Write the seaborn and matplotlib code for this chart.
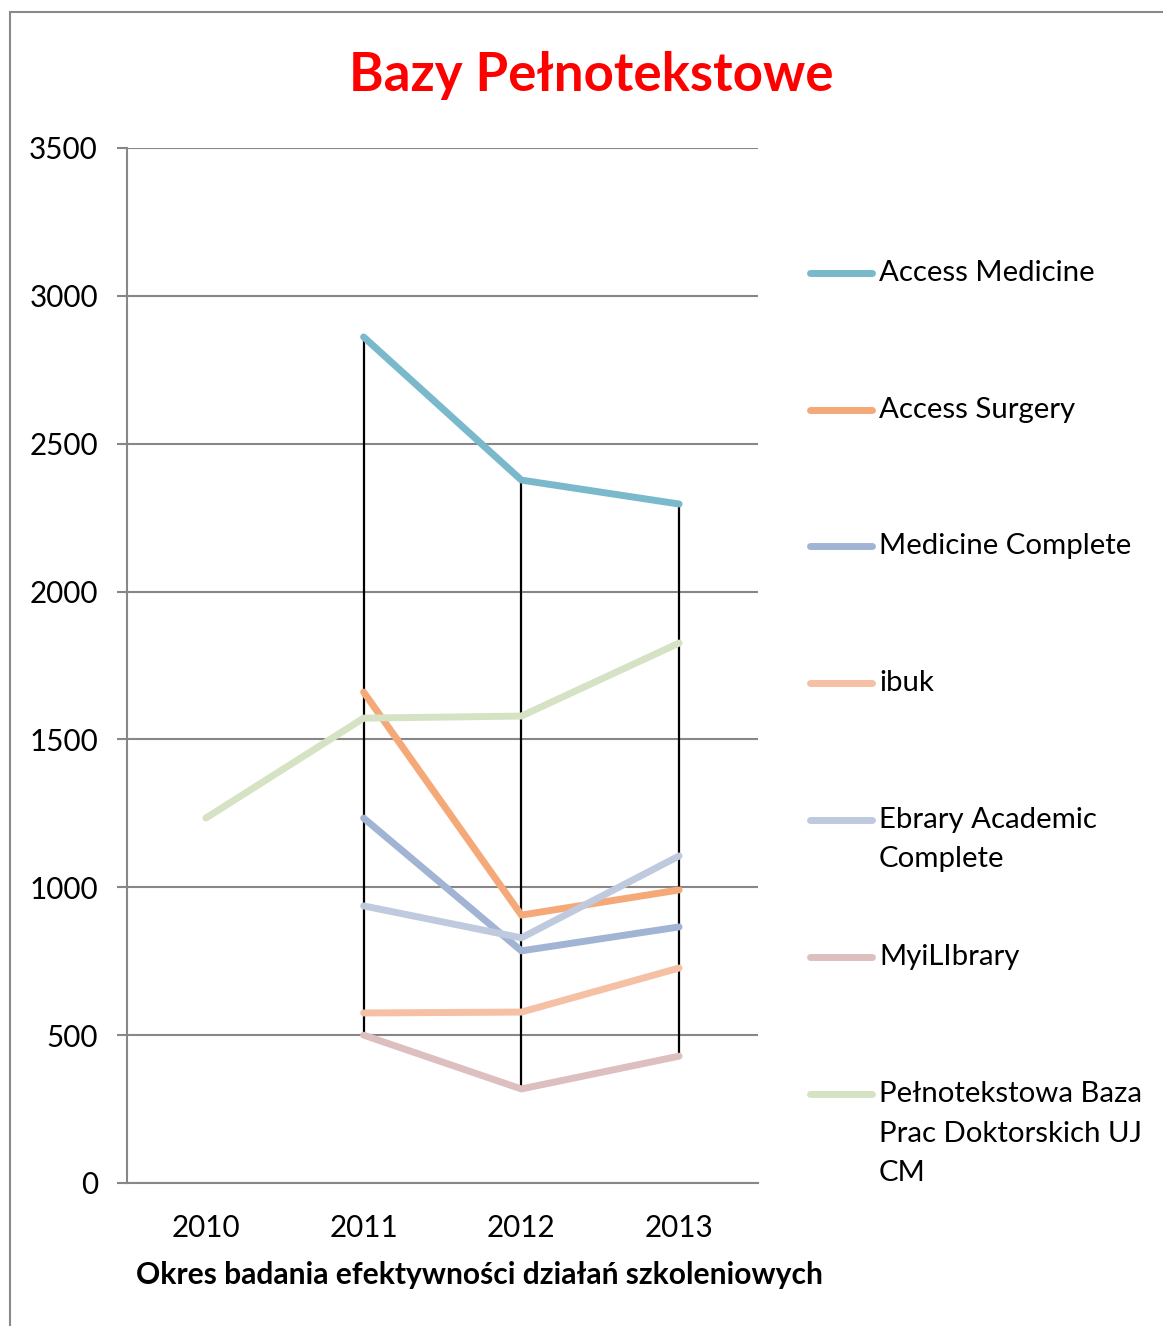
import numpy as np
import pandas as pd
import matplotlib
matplotlib.use("Agg")
import matplotlib.pyplot as plt
import seaborn as sns
from matplotlib.lines import Line2D
from matplotlib.patches import Rectangle

years = [2010, 2011, 2012, 2013]
series_names = ["Access Medicine", "Access Surgery", "Medicine Complete", "ibuk",
                "Ebrary Academic Complete", "MyiLIbrary",
                "Pełnotekstowa Baza Prac Doktorskich UJ CM"]
legend_labels = ["Access Medicine", "Access Surgery", "Medicine Complete", "ibuk",
                 "Ebrary Academic\nComplete", "MyiLIbrary",
                 "Pełnotekstowa Baza\nPrac Doktorskich UJ\nCM"]
access_medicine = [np.nan, 2861, 2377, 2296]
access_surgery = [np.nan, 1660, 906, 991]
medicine_complete = [np.nan, 1234, 785, 866]
ibuk = [np.nan, 575, 578, 727]
ebrary = [np.nan, 937, 829, 1106]
myilibrary = [np.nan, 500, 318, 429]
pelnotekstowa = [1234, 1572, 1579, 1826]
colors = ["#7AB8CC", "#F5A878", "#A2B4D4", "#F5C0A4", "#BFCADF", "#DDBFBF", "#D6E2C4"]

values = [access_medicine, access_surgery, medicine_complete, ibuk, ebrary, myilibrary, pelnotekstowa]
rows = []
for name, vals in zip(series_names, values):
    for y, v in zip(years, vals):
        rows.append({"year": y, "value": v, "series": name})
df = pd.DataFrame(rows)

sns.set_style("white")
plt.rcParams["font.family"] = ["Lato", "DejaVu Sans"]
plt.rcParams["text.color"] = "black"
plt.rcParams["xtick.color"] = "black"
plt.rcParams["ytick.color"] = "black"

W, H = 1163, 1326
fig = plt.figure(figsize=(W / 100, H / 100), dpi=100)
ax = fig.add_axes([127 / W, 1 - 1183 / H, (758 - 127) / W, (1183 - 148) / H])

grid_c = "#878787"
for yv in range(0, 3501, 500):
    ax.axhline(yv, color=grid_c, lw=1.5, zorder=0)

# high-low lines
wide = df.pivot(index="year", columns="series", values="value")
hi = wide.max(axis=1)
lo = wide.min(axis=1)
ax.vlines(wide.index, lo, hi, color="black", lw=1.6, zorder=1)

sns.lineplot(data=df.dropna(), x="year", y="value", hue="series", hue_order=series_names,
             palette=colors, lw=5, legend=False, ax=ax, zorder=2,
             solid_capstyle="round", solid_joinstyle="round")

ax.set_xlim(2009.5, 2013.5)
ax.set_ylim(0, 3500)
ax.set_yticks(range(0, 3501, 500))
ax.set_xticks(years)
ax.set_xticklabels([str(y) for y in years])
ax.set_xlabel("")
ax.set_ylabel("")
for s in ["top", "right"]:
    ax.spines[s].set_visible(False)
ax.spines["left"].set_color(grid_c)
ax.spines["left"].set_linewidth(1.5)
ax.spines["bottom"].set_color(grid_c)
ax.spines["bottom"].set_linewidth(1.5)
ax.tick_params(axis="y", direction="out", length=7, width=1.5, color=grid_c,
               labelsize=21.3, labelcolor="black", pad=14, left=True)
ax.tick_params(axis="x", length=0, labelsize=21.3, labelcolor="black", pad=22)

fig.text(591 / W, 1 - 76 / H, "Bazy Pełnotekstowe", color="#FF0000", fontsize=38,
         fontweight="bold", ha="center", va="center")
fig.text(479 / W, 1 - 1275 / H, "Okres badania efektywności działań szkoleniowych",
         fontsize=21.6, fontweight="bold", ha="center", va="center", color="black")

# legend
entry_y = [273, 410, 546, 683, 820, 957, 1094]
for lab, c, yy in zip(legend_labels, colors, entry_y):
    fig.add_artist(Line2D([810 / W, 872 / W], [1 - yy / H, 1 - yy / H], color=c, lw=5,
                          solid_capstyle="round", transform=fig.transFigure))
    for i, part in enumerate(lab.split("\n")):
        fig.text(879 / W, 1 - (yy + i * 39.5) / H, part, fontsize=21.2, ha="left",
                 va="center", color="black")

fig.add_artist(Rectangle((10 / W, -0.1), 1.5, (1 - 12 / H) + 0.1, transform=fig.transFigure,
                         fill=False, edgecolor="#898989", lw=1.5))

fig.savefig("out.png", dpi=100)
